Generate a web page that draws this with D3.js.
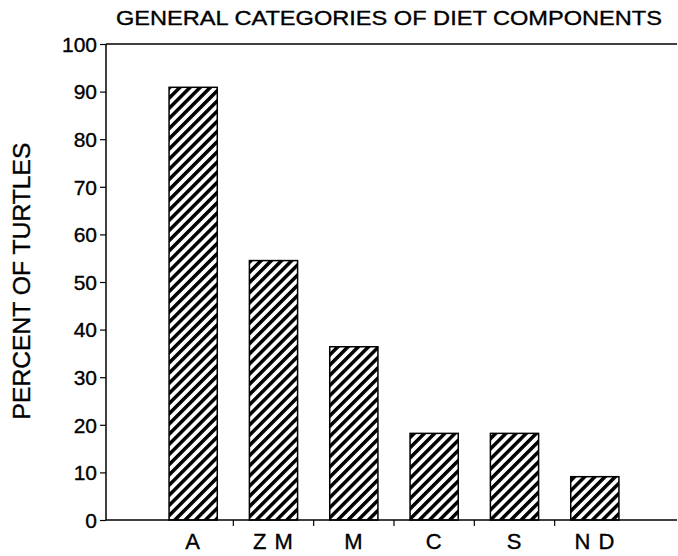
<!DOCTYPE html>
<html>
<head>
<meta charset="utf-8">
<script src="https://cdn.jsdelivr.net/npm/d3@7"></script>
<style>
  html, body { margin: 0; padding: 0; background: #fff; }
  svg { display: block; font-family: "Liberation Sans", Arial, Helvetica, sans-serif; }
  svg text { fill: #000; stroke: #000; stroke-width: 0.35px; }
</style>
</head>
<body>
<svg id="chart" width="678" height="556"></svg>
<script>
const categories = ["A", "Z M", "M", "C", "S", "N D"];
const percentTurtles = [90.9, 54.5, 36.4, 18.2, 18.2, 9.1];
const yTicks = [0, 10, 20, 30, 40, 50, 60, 70, 80, 90, 100];
const titleText = "GENERAL CATEGORIES OF DIET COMPONENTS";
const yLabelText = "PERCENT OF TURTLES";

const svg = d3.select("#chart");
const axisX0 = 106, axisX1 = 677, plotTop = 44, plotBottom = 520;

const defs = svg.append("defs");
const pat = defs.append("pattern")
  .attr("id", "hatch")
  .attr("patternUnits", "userSpaceOnUse")
  .attr("width", 7.2).attr("height", 10)
  .attr("patternTransform", "rotate(45)");
pat.append("rect").attr("width", 7.2).attr("height", 10).attr("fill", "#fff");
pat.append("rect").attr("x", 0).attr("width", 3.5).attr("height", 10).attr("fill", "#000");

const x = d3.scaleBand().domain(categories).range([153, 635]).paddingInner(0.4).paddingOuter(0.2);
const y = d3.scaleLinear().domain([0, 100]).range([plotBottom, plotTop]);

// title
svg.append("text")
  .attr("x", 389).attr("y", 25)
  .attr("text-anchor", "middle")
  .attr("font-size", 20.5)
  .attr("textLength", 546)
  .attr("lengthAdjust", "spacingAndGlyphs")
  .text(titleText);

// top frame line
svg.append("line")
  .attr("x1", axisX0).attr("x2", axisX1)
  .attr("y1", y(100)).attr("y2", y(100))
  .attr("stroke", "#000").attr("stroke-width", 1.5);

// bars
svg.append("g").selectAll("rect")
  .data(categories)
  .join("rect")
  .attr("x", d => x(d))
  .attr("width", x.bandwidth())
  .attr("y", (d, i) => y(percentTurtles[i]))
  .attr("height", (d, i) => y(0) - y(percentTurtles[i]))
  .attr("fill", "url(#hatch)")
  .attr("stroke", "#000")
  .attr("stroke-width", 1.5);

// y axis
const yAxis = d3.axisLeft(y).tickValues(yTicks).tickSize(6).tickPadding(3).tickFormat(d3.format("d"));
const gy = svg.append("g").attr("transform", `translate(${axisX0},0)`).call(yAxis);
gy.select(".domain").attr("stroke-width", 1.5).attr("d", `M0,${y(0)}V${y(100)}`);
gy.selectAll(".tick line").attr("stroke-width", 1.2);
gy.selectAll(".tick text").attr("font-size", 21).attr("font-family", "Liberation Sans, Arial, sans-serif").attr("dy", "0.35em");

// x axis baseline
svg.append("line")
  .attr("x1", axisX0).attr("x2", axisX1)
  .attr("y1", y(0)).attr("y2", y(0))
  .attr("stroke", "#000").attr("stroke-width", 1.5);

// x ticks between bars
const boundaries = categories.slice(1).map(c => x(c) - x.step() * x.paddingInner() / 2);
svg.append("g").selectAll("line")
  .data(boundaries)
  .join("line")
  .attr("x1", d => d).attr("x2", d => d)
  .attr("y1", y(0)).attr("y2", y(0) + 6)
  .attr("stroke", "#000").attr("stroke-width", 1.2);

// x labels
svg.append("g").selectAll("text")
  .data(categories)
  .join("text")
  .attr("x", d => x(d) + x.bandwidth() / 2)
  .attr("y", 549)
  .attr("text-anchor", "middle")
  .attr("font-size", 22)
  .attr("letter-spacing", "1px")
  .text(d => d);

// y label
svg.append("text")
  .attr("transform", "translate(30,281) rotate(-90)")
  .attr("text-anchor", "middle")
  .attr("font-size", 23.5)
  .attr("textLength", 277)
  .attr("lengthAdjust", "spacingAndGlyphs")
  .text(yLabelText);
</script>
</body>
</html>
